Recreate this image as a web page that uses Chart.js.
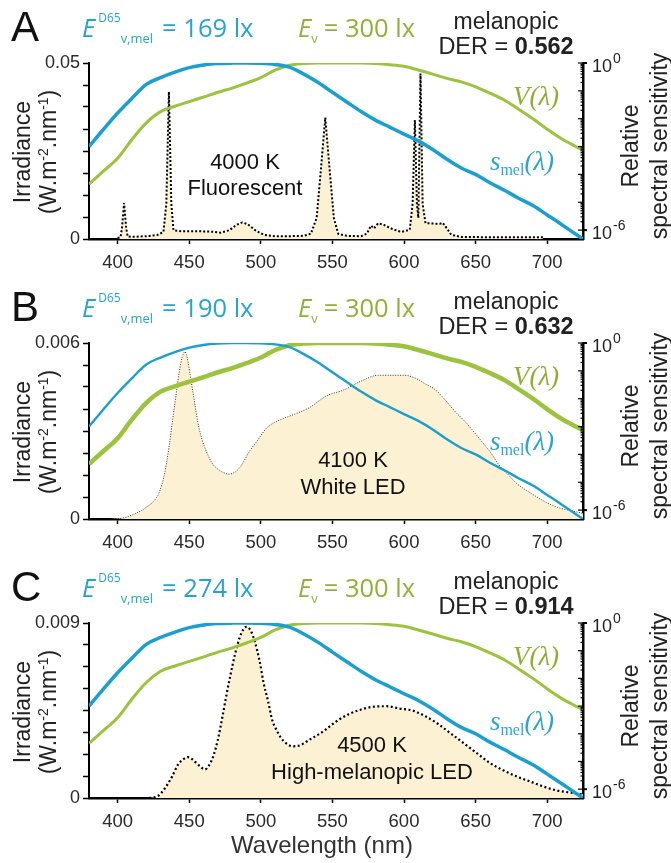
<!DOCTYPE html>
<html><head><meta charset="utf-8">
<script src="https://cdn.jsdelivr.net/npm/chart.js"></script>
<style>
html,body{margin:0;padding:0;background:#fff;}
body{width:671px;height:863px;overflow:hidden;position:relative;font-family:'Liberation Sans',Arial,sans-serif;}
.panel{position:absolute;left:0;width:671px;}
.panel canvas{position:absolute;left:0;top:0;}
.t{position:absolute;white-space:nowrap;line-height:1;}
.c{transform:translate(-50%,-50%);text-align:center;}
.rot{transform:translate(-50%,-50%) rotate(-90deg);}
.hdr{font-family:'Open Sans','Liberation Sans',sans-serif;font-size:25.5px;}
.sup{font-size:12px;position:relative;top:-15px;margin-left:3px;}
.sub{font-size:13px;position:relative;top:6px;}
.ser{font-family:'Liberation Serif','Times New Roman',serif;font-style:italic;font-size:27px;}
</style>
</head><body>
<script>
// ---------- data ----------
const panelLetters = ['A', 'B', 'C'];
const melEDI = ['169', '190', '274'];
const photopicLux = ['300', '300', '300'];
const derValues = ['0.562', '0.632', '0.914'];
const cctLabels = ['4000 K', '4100 K', '4500 K'];
const sourceLabels = ['Fluorescent', 'White LED', 'High-melanopic LED'];
const irrMax = [0.05, 0.006, 0.009];
const irrMaxLabels = ['0.05', '0.006', '0.009'];
const xTickValues = [400, 450, 500, 550, 600, 650, 700];
const xMin = 380, xMax = 725;
const xAxisTitle = 'Wavelength (nm)';
const rightTopValue = 1, rightBottomValue = 4.8e-7;
const rightLabelValues = [1, 1e-6];
const rightLabelExps = ['0', '-6'];
const rightDecades = [1, 1e-1, 1e-2, 1e-3, 1e-4, 1e-5, 1e-6];
const rightMinorMantissas = [2, 3, 4, 5, 6, 7, 8, 9];

// 4000 K fluorescent (W.m-2.nm-1)
const fluoWl = [400,402,403,404.5,406,407,410,420,428,432,434,435.8,437.5,439,445,455,465,472,478,483,487,491,496,502,510,520,530,535,539,542,545,548,551,554,560,570,574,577,579,582,586,592,598,604,606,607.6,609,610,611.5,613,615,620,625,627,630,633,640,660,680,697];
const fluoIrr = [0.0003,0.0005,0.003,0.0102,0.003,0.0007,0.0006,0.0008,0.0012,0.002,0.01,0.0418,0.01,0.0025,0.0022,0.0022,0.0021,0.0018,0.0025,0.0040,0.0047,0.0042,0.0025,0.0012,0.0008,0.0008,0.0009,0.0015,0.006,0.02,0.0345,0.02,0.006,0.0015,0.0009,0.0008,0.0015,0.0038,0.003,0.0045,0.0040,0.0028,0.0020,0.0026,0.01,0.0338,0.01,0.006,0.047,0.01,0.0045,0.0044,0.0043,0.0046,0.003,0.0012,0.0006,0.0005,0.0005,0.0005];

// 4100 K white LED
const ledWl = [395,405,417,420,425,429,433,436,439,441,443,445,447,449,451,453,456,459,462,466,470,474,478,482,486,492,498,504,510,516,525,534,546,558,570,582,590,600,608,615,622,628,635,643,650,655,660,667,673,679,688,697,707,718,727];
const ledIrr = [0,0.00005,0.0003,0.0004,0.0006,0.0009,0.0016,0.0025,0.0036,0.0043,0.0050,0.0055,0.0057,0.0054,0.0048,0.0042,0.0033,0.0027,0.0023,0.0019,0.0017,0.00158,0.00153,0.0016,0.0018,0.0023,0.0027,0.0031,0.0033,0.00343,0.0036,0.0038,0.0042,0.0044,0.0047,0.0049,0.0049,0.0049,0.0048,0.0046,0.0044,0.0041,0.0037,0.0033,0.0029,0.0026,0.0023,0.0018,0.0015,0.0012,0.0009,0.00063,0.0004,0.00027,0.00017];

// 4500 K high-melanopic LED
const hmWl = [400,410,420,428,433,438,442,446,449,452,455,458,461,464,467,470,473,476,479,482,485,488,490,493,496,499,502,505,508,511,514,518,522,527,534,543,552,561,570,579,588,597,606,615,624,633,642,651,660,670,679,688,697,706,715,727];
const hmIrr = [0,0,0,0.0001,0.0005,0.0011,0.0017,0.0020,0.0021,0.0020,0.0018,0.0016,0.00147,0.0017,0.0022,0.003,0.0041,0.0053,0.0064,0.0074,0.0082,0.0087,0.0088,0.0086,0.0080,0.0071,0.0059,0.0050,0.0040,0.0035,0.0031,0.0028,0.00266,0.0027,0.0030,0.0034,0.0039,0.0043,0.00455,0.0047,0.00472,0.0046,0.0045,0.0042,0.0038,0.0033,0.0028,0.0023,0.0018,0.0014,0.0011,0.00085,0.0006,0.0004,0.00029,0.00017];

// relative spectral sensitivities
const sensWl = [380,390,400,410,420,430,440,450,460,470,480,490,500,510,520,530,540,550,560,570,580,590,600,610,620,630,640,650,660,670,680,690,700,710,720,725];
const sMel = [1.0e-3,4.1e-3,1.6e-2,5.4e-2,0.17,0.30,0.47,0.68,0.85,0.95,0.99,1.0,0.98,0.89,0.71,0.40,0.20,0.089,0.040,0.018,8.9e-3,5.0e-3,2.8e-3,1.6e-3,7.9e-4,3.5e-4,1.7e-4,1.0e-4,5.0e-5,2.7e-5,1.4e-5,7.6e-6,3.5e-6,1.6e-6,7.1e-7,4.8e-7];
const vLambda = [4.5e-5,1.3e-4,3.8e-4,1.8e-3,7.1e-3,0.018,0.028,0.041,0.060,0.089,0.126,0.19,0.30,0.56,0.83,0.95,1.0,1.0,1.0,0.99,0.95,0.87,0.76,0.56,0.40,0.28,0.21,0.14,0.083,0.047,0.022,0.010,4.2e-3,1.9e-3,1.0e-3,7.4e-4];

const spdWl = [fluoWl, ledWl, hmWl];
const spdIrr = [fluoIrr, ledIrr, hmIrr];

// ---------- styles / layout ----------
const BLUE = '#1a9fd1', GREEN = '#9cc33d', CREAM = '#fcf2d3';
const BLUE_TXT = '#26a3d0', GREEN_TXT = '#8fb236', DARK = '#222';
const layouts = [
  {top:0,   h:280, xh:41, cct:[245,162,188], spdDash:[2,2],   spdW:2,   spdCol:'#000', smooth:false, vW:3,   mW:3.5},
  {top:280, h:280, xh:41, cct:[353,180,207], spdDash:[1,1.5], spdW:1,   spdCol:'#333', smooth:true,  vW:4.5, mW:2.4},
  {top:560, h:303, xh:65, cct:[372,185,212], spdDash:[2,2.5], spdW:2.2, spdCol:'#000', smooth:true,  vW:3,   mW:3.5}
];
Chart.defaults.font.family = "'Liberation Sans', Arial, sans-serif";
Chart.defaults.color = DARK;

const rightAxisPlugin = {
  id: 'rightAxisDecor',
  afterDraw(chart) {
    const s = chart.scales.y2, ctx = chart.ctx, x = chart.chartArea.right;
    ctx.save();
    ctx.strokeStyle = '#000'; ctx.lineWidth = 1.2;
    s.ticks.forEach(t => {
      const y = s.getPixelForValue(t.value);
      const len = t.major ? 5 : 2.5;
      ctx.beginPath(); ctx.moveTo(x - len, y); ctx.lineTo(x, y); ctx.stroke();
    });
    ctx.fillStyle = DARK; ctx.textBaseline = 'middle'; ctx.textAlign = 'left';
    rightLabelValues.forEach((v, i) => {
      const y = s.getPixelForValue(v);
      ctx.lineWidth = 2;
      ctx.beginPath(); ctx.moveTo(x, y); ctx.lineTo(x + 4, y); ctx.stroke();
      ctx.font = "18px 'Liberation Sans', Arial";
      ctx.fillText('10', x + 9, y + 4);
      const w = ctx.measureText('10').width;
      ctx.font = "14px 'Liberation Sans', Arial";
      ctx.fillText(rightLabelExps[i], x + 9 + w + 1, y - 4);
    });
    ctx.restore();
  }
};

function addText(wrap, html, cls, left, top, style) {
  const d = document.createElement('div');
  d.className = 't ' + cls;
  d.innerHTML = html;
  d.style.left = left + 'px'; d.style.top = top + 'px';
  if (style) Object.assign(d.style, style);
  wrap.appendChild(d);
  return d;
}

function buildPanel(p) {
  const L = layouts[p];
  const wrap = document.createElement('div');
  wrap.className = 'panel';
  wrap.style.top = L.top + 'px'; wrap.style.height = L.h + 'px';
  const cv = document.createElement('canvas');
  cv.width = 671; cv.height = L.h;
  wrap.appendChild(cv);
  document.body.appendChild(wrap);

  const rightTicks = [];
  rightDecades.forEach(d => {
    rightTicks.push({value: d, major: true});
    if (d < 1) rightMinorMantissas.forEach(m => rightTicks.push({value: d * m, major: false}));
  });

  new Chart(cv.getContext('2d'), {
    type: 'line',
    data: {
      datasets: [
        {data: spdWl[p].map((w, i) => ({x: w, y: spdIrr[p][i]})), yAxisID: 'y',
         borderColor: L.spdCol, borderWidth: L.spdW, borderDash: L.spdDash,
         backgroundColor: CREAM, fill: 'origin', pointRadius: 0, tension: 0,
         cubicInterpolationMode: L.smooth ? 'monotone' : 'default', order: 3},
        {data: sensWl.map((w, i) => ({x: w, y: vLambda[i]})), yAxisID: 'y2',
         borderColor: GREEN, borderWidth: L.vW, pointRadius: 0, fill: false,
         cubicInterpolationMode: 'monotone', order: 2},
        {data: sensWl.map((w, i) => ({x: w, y: sMel[i]})), yAxisID: 'y2',
         borderColor: BLUE, borderWidth: L.mW, pointRadius: 0, fill: false,
         cubicInterpolationMode: 'monotone', order: 1}
      ]
    },
    options: {
      responsive: false, animation: false, devicePixelRatio: 1,
      layout: {padding: {top: 63, left: 0, right: 0, bottom: 0}},
      plugins: {legend: {display: false}, tooltip: {enabled: false},
                filler: {propagate: false, drawTime: 'beforeDatasetsDraw'}},
      scales: {
        x: {type: 'linear', position: 'bottom', min: xMin, max: xMax,
            afterBuildTicks: s => { s.ticks = xTickValues.map(v => ({value: v})); },
            afterFit: s => { s.height = L.xh; },
            grid: {drawOnChartArea: false, drawTicks: true, tickLength: 5, tickWidth: 1.5, tickColor: '#000'},
            border: {display: true, color: '#000', width: 2.5},
            ticks: {font: {size: 18.5}, color: '#2a2a2a', padding: 8, maxRotation: 0, autoSkip: false}},
        y: {type: 'linear', position: 'left', min: 0, max: irrMax[p],
            afterBuildTicks: s => { const t = []; for (let k = 0; k <= 8; k++) t.push({value: irrMax[p] * k / 8}); s.ticks = t; },
            afterFit: s => { s.width = 89; },
            grid: {drawOnChartArea: false, drawTicks: true, tickLength: 6, tickWidth: 1.5, tickColor: '#000'},
            border: {display: true, color: '#000', width: 2},
            ticks: {autoSkip: false, padding: 3, font: {size: 18}, color: '#2a2a2a',
                    callback: (v, i, arr) => i === 0 ? '0' : (i === arr.length - 1 ? irrMaxLabels[p] : '')}},
        y2: {type: 'logarithmic', position: 'right', min: rightBottomValue, max: rightTopValue,
             afterBuildTicks: s => { s.ticks = rightTicks.map(t => ({value: t.value, major: t.major})); },
             afterFit: s => { s.width = 88; },
             grid: {display: false, drawOnChartArea: false},
             border: {display: true, color: '#000', width: 2.5},
             ticks: {display: false}}
      }
    },
    plugins: [rightAxisPlugin]
  });

  // ---- text overlays ----
  addText(wrap, panelLetters[p], '', 11, 6, {fontSize: '42px', color: '#111'});
  addText(wrap, '<i>E</i><span class="sup">D65</span><span class="sub">v,mel</span><span style="margin-left:9px">= ' + melEDI[p] + ' lx</span>', 'hdr', 82, 14.5, {color: BLUE_TXT});
  addText(wrap, '<i>E</i><span class="sub">v</span><span style="margin-left:6px">= ' + photopicLux[p] + ' lx</span>', 'hdr', 298, 14.5, {color: GREEN_TXT});
  addText(wrap, 'melanopic', 'c', 506, 21, {fontSize: '23px', color: DARK});
  addText(wrap, 'DER = <b>' + derValues[p] + '</b>', 'c', 506, 47, {fontSize: '23.5px', color: DARK});
  addText(wrap, 'Irradiance', 'rot', 22, 152, {fontSize: '23px', color: DARK});
  addText(wrap, '(W.m<sup style="font-size:14px">-2</sup>.nm<sup style="font-size:14px">-1</sup>)', 'rot', 48, 152, {fontSize: '23px', color: DARK});
  addText(wrap, 'Relative', 'rot', 630, 146, {fontSize: '23px', color: DARK});
  addText(wrap, 'spectral sensitivity', 'rot', 659, 146, {fontSize: '23px', color: DARK});
  addText(wrap, cctLabels[p], 'c', L.cct[0], L.cct[1], {fontSize: '22px', color: '#111'});
  addText(wrap, sourceLabels[p], 'c', L.cct[0], L.cct[2], {fontSize: '22px', color: '#111'});
  addText(wrap, 'V(λ)', 'c ser', 536, 96, {color: '#8fae30'});
  addText(wrap, '<i>s</i><span style="font-style:normal;font-size:16px;position:relative;top:5px">mel</span>(λ)', 'c ser', 522, 161, {color: '#2aa5d3'});
  if (p === 2) addText(wrap, xAxisTitle, 'c', 322, 285, {fontSize: '24px', color: '#333'});
}

[0, 1, 2].forEach(buildPanel);
</script>
</body></html>
